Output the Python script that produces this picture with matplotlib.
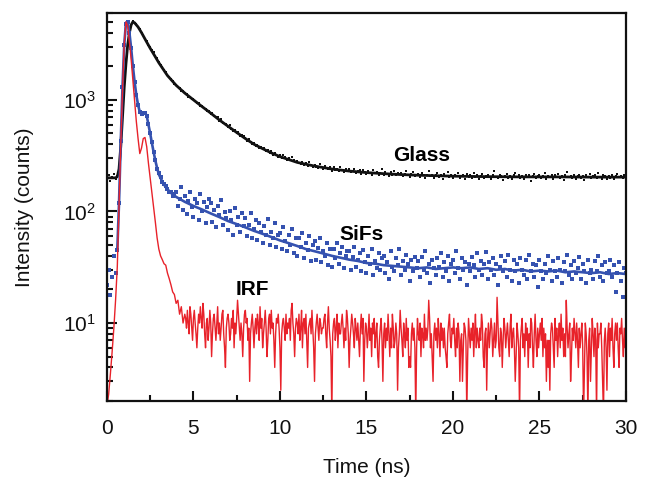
import numpy as np
import matplotlib
matplotlib.use('Agg')
import matplotlib.pyplot as plt
from matplotlib.ticker import LogLocator, NullFormatter, MultipleLocator

# ---- Glass: fitted curve (time in ns, counts) ----
glass_fit_t = [0, 0.5, 0.6, 0.7, 0.8, 0.9, 1.0, 1.1, 1.2, 1.3, 1.4, 1.5, 1.6, 1.8, 2.0,
               2.25, 2.5, 2.75, 3.0, 3.5, 4.0, 4.5, 5.0, 5.5, 6.0, 6.5, 7.0, 7.5, 8.0,
               8.5, 9.0, 9.5, 10, 11, 12, 13, 14, 15, 16, 17, 18, 19, 20, 22, 24, 26,
               28, 30]
glass_fit = [200, 200, 205, 240, 380, 700, 1300, 2100, 3100, 4000, 4700, 5000, 4900,
             4500, 4000, 3400, 2900, 2500, 2150, 1650, 1350, 1150, 1000, 870, 760, 660,
             580, 510, 450, 400, 365, 335, 310, 275, 255, 240, 230, 223, 218, 214, 211,
             209, 207, 205, 204, 204, 203, 203]

# Glass: measured points, one every 0.1 ns from 0 to 30
glass_pts = [196, 212, 186, 205, 218, 194, 208, 245, 375, 730,
             1290, 2180, 3080, 4100, 4650, 5050, 4850, 4800, 4450, 4300,
             3950, 3820, 3520, 3380, 3120, 2980, 2780, 2660, 2460, 2350,
             2200, 2060, 1970, 1840, 1770, 1680, 1590, 1530, 1470, 1390,
             1370, 1300, 1270, 1210, 1200, 1140, 1120, 1070, 1060, 1010,
             1010, 985, 930, 935, 880, 880, 845, 835, 790, 795,
             750, 760, 710, 700, 695, 650, 670, 620, 605, 610,
             570, 590, 545, 530, 540, 500, 520, 475, 485, 470,
             455, 430, 450, 415, 400, 410, 385, 395, 370, 380,
             360, 372, 345, 352, 332, 348, 322, 335, 318, 310,
             318, 300, 322, 305, 290, 302, 288, 305, 290, 276,
             284, 270, 268, 279, 262, 270, 258, 275, 262, 252,
             262, 250, 246, 265, 248, 240, 255, 246, 238, 250,
             232, 248, 236, 242, 228, 252, 234, 226, 240, 232,
             238, 224, 230, 242, 220, 228, 234, 218, 236, 225,
             216, 230, 222, 212, 236, 220, 226, 214, 222, 240,
             212, 224, 218, 208, 226, 214, 232, 210, 220, 216,
             222, 206, 216, 230, 212, 204, 218, 224, 208, 214,
             216, 204, 220, 210, 198, 214, 228, 206, 212, 200,
             212, 222, 204, 210, 196, 216, 208, 226, 202, 210,
             200, 214, 206, 220, 198, 208, 212, 194, 216, 205,
             210, 198, 222, 204, 212, 196, 206, 218, 200, 208,
             214, 202, 196, 210, 228, 204, 198, 212, 206, 192,
             208, 216, 200, 206, 194, 212, 220, 202, 210, 198,
             206, 196, 214, 204, 210, 188, 208, 218, 200, 206,
             212, 200, 206, 222, 196, 208, 202, 214, 194, 210,
             204, 216, 198, 208, 192, 210, 226, 202, 206, 200,
             210, 196, 206, 214, 200, 208, 190, 212, 204, 218,
             198, 206, 212, 200, 222, 204, 196, 210, 206, 194,
             208, 200, 214, 196, 206, 218, 202, 208, 198, 212,
             204]

# ---- SiFs: fitted curve ----
sifs_fit_t = [0.6, 0.7, 0.8, 0.9, 1.0, 1.1, 1.2, 1.3, 1.4, 1.5, 1.6, 1.7, 1.8,
              1.9, 2.0, 2.1, 2.2, 2.3, 2.4, 2.5, 2.6, 2.7, 2.8, 2.9, 3.0, 3.2, 3.4,
              3.6, 3.8, 4.0, 4.5, 5.0, 5.5, 6.0, 6.5, 7.0, 7.5, 8.0, 8.5, 9.0, 9.5,
              10, 10.5, 11, 11.5, 12, 12.5, 13, 13.5, 14, 14.5, 15, 15.5, 16, 16.5,
              17, 17.5, 18, 18.5, 19, 19.5, 20, 20.5, 21, 21.5, 22, 22.5, 23, 23.5,
              24, 24.5, 25, 25.5, 26, 26.5, 27, 27.5, 28, 28.5, 29, 29.5, 30]
sifs_fit = [45, 120, 420, 1300, 3100, 4900, 5000, 4000, 2900, 2000, 1450, 1100, 900,
            780, 740, 760, 770, 720, 600, 500, 410, 340, 285, 245, 215, 185, 165,
            152, 142, 135, 122, 112, 104, 96, 89, 82, 77, 72, 67, 63, 59,
            55, 52, 49, 46, 44, 42, 40, 38.5, 37, 36, 34.5, 34, 33, 32.5,
            32, 31.5, 31, 31.5, 30.5, 31, 31.5, 31, 31.5, 30.5, 31, 30, 30.5, 29.5,
            30, 29, 29.5, 29, 29.5, 28.5, 29, 28.5, 28, 28.5, 27.5, 28, 27.5]

# SiFs: measured points, one every 0.1 ns from 0 to 30
sifs_pts = [22, 30, 18, 26, 40, 28, 45, 120, 430, 1300,
            3100, 4800, 5000, 4000, 2900, 2000, 1450, 1100, 900, 780,
            740, 770, 760, 720, 610, 500, 420, 340, 290, 240,
            220, 205, 182, 175, 168, 158, 150, 148, 138, 142,
            150, 112, 128, 165, 104, 138, 95, 125, 148, 110,
            90, 130, 118, 84, 142, 100, 122, 78, 110, 128,
            120, 80, 104, 72, 112, 92, 126, 76, 98, 88,
            68, 100, 84, 62, 108, 76, 90, 66, 96, 74,
            88, 60, 76, 96, 58, 70, 84, 56, 78, 66,
            52, 74, 62, 86, 50, 66, 58, 78, 48, 62,
            64, 46, 72, 54, 44, 62, 50, 70, 42, 58,
            40, 58, 48, 64, 38, 52, 45, 60, 36, 50,
            54, 37, 47, 58, 35, 44, 40, 52, 33, 46,
            32, 46, 38, 52, 34, 42, 48, 31, 40, 44,
            44, 30, 39, 48, 32, 37, 42, 29, 45, 35,
            28, 40, 34, 46, 27, 36, 31, 42, 30, 38,
            40, 28, 35, 25, 44, 32, 29, 38, 33, 46,
            27, 36, 30, 41, 34, 24, 37, 29, 39, 31,
            36, 26, 39, 30, 44, 28, 34, 23, 37, 31,
            27, 38, 32, 42, 26, 35, 29, 40, 24, 34,
            37, 28, 44, 31, 25, 38, 30, 35, 22, 34,
            29, 39, 33, 26, 42, 30, 36, 27, 34, 43,
            25, 35, 30, 38, 27, 34, 22, 32, 40, 29,
            36, 26, 41, 30, 24, 37, 29, 34, 23, 38,
            30, 27, 37, 25, 41, 29, 34, 26, 33, 21,
            37, 29, 25, 34, 28, 40, 30, 24, 36, 29,
            26, 38, 30, 23, 35, 29, 41, 27, 33, 25,
            36, 28, 31, 39, 25, 34, 29, 23, 37, 28,
            30, 25, 36, 29, 40, 26, 33, 24, 35, 28,
            29, 37, 26, 33, 19, 28, 35, 24, 17, 31,
            28]

# ---- IRF: pulse, one value every 0.1 ns from 0 to 4.4 ----
irf_rise = [1.8, 2.3, 3.5, 5.5, 9, 16, 32, 110, 400, 1200,
            3200, 5000, 4600, 3300, 2300, 1500, 980, 640, 450, 330,
            370, 450, 460, 380, 270, 200, 150, 110, 80, 58,
            46, 40, 37, 34, 33, 28, 25, 22, 19, 18,
            15, 16, 12, 14, 10]

# ---- IRF: noisy tail, one value every 0.05 ns from 4.5 to 30 ----
irf_tail = [12, 11, 9, 13, 10, 8, 14, 12, 9, 7, 11, 13, 10, 8, 6, 9, 12, 10, 14, 11,
            9, 15, 12, 8, 6, 10, 11, 7, 9, 13, 10, 5, 8, 11, 12, 9, 7, 10, 14, 8,
            10, 7, 9, 12, 13, 8, 6, 4, 9, 11, 12, 10, 7, 8, 11, 9, 13, 6, 10, 8,
            11, 16, 12, 9, 7, 10, 8, 5, 9, 12, 13, 10, 11, 7, 9, 3, 8, 10, 12, 9,
            6, 9, 11, 8, 12, 10, 7, 14, 9, 11, 6, 8, 10, 13, 9, 5, 7, 11, 12, 8,
            13, 9, 10, 7, 4, 8, 11, 10, 12, 9, 6, 2.5, 8, 10, 11, 9, 7, 12, 8, 10,
            9, 11, 7, 13, 15, 10, 8, 5, 9, 11, 10, 8, 12, 7, 9, 13, 6, 10, 11, 8,
            12, 7, 4, 9, 10, 11, 8, 13, 9, 6, 3, 8, 10, 12, 9, 7, 11, 10, 8, 9,
            9, 11, 12, 8, 6, 10, 14, 9, 7, 5, 1.5, 8, 10, 11, 7, 9, 12, 6, 10, 8,
            8, 10, 12, 9, 6, 9, 7, 13, 11, 8, 4, 7, 9, 12, 10, 8, 6, 11, 9, 7,
            10, 7, 5, 9, 12, 8, 11, 3, 7, 10, 9, 6, 8, 12, 7, 9, 5, 10, 8, 11,
            6, 8, 10, 5, 4, 7, 9, 11, 7, 3, 8, 10, 6, 9, 7, 12, 8, 5, 9, 6,
            12, 9, 6, 7, 10, 8, 2.5, 6, 8, 13, 9, 7, 5, 10, 8, 6, 11, 7, 9, 4,
            5, 4, 8, 10, 7, 9, 6, 1.5, 6, 11, 8, 7, 10, 5, 9, 8, 6, 12, 7, 9,
            7, 9, 16, 11, 6, 8, 5, 3, 8, 10, 7, 9, 6, 11, 8, 5, 10, 7, 9, 6,
            9, 6, 5, 4, 8, 10, 12, 7, 6, 9, 8, 11, 7, 5, 9, 6, 10, 8, 3, 7,
            8, 3, 6, 10, 9, 7, 1.5, 5, 11, 8, 6, 9, 7, 10, 5, 8, 12, 6, 9, 7,
            6, 9, 7, 12, 10, 5, 4, 8, 9, 2.5, 7, 10, 6, 8, 11, 9, 5, 7, 10, 6,
            7, 17, 10, 6, 5, 9, 8, 4, 7, 11, 9, 6, 8, 10, 7, 5, 9, 12, 6, 8,
            9, 6, 3, 5, 10, 8, 6, 1.5, 7, 9, 11, 6, 8, 5, 10, 7, 9, 4, 8, 6,
            11, 10, 6, 4, 8, 12, 7, 5, 9, 6, 8, 10, 7, 11, 5, 9, 6, 8, 3, 7,
            4, 7, 2.5, 8, 10, 9, 6, 4, 11, 7, 9, 5, 8, 10, 6, 12, 7, 9, 5, 8,
            5, 16, 9, 6, 8, 10, 3, 5, 9, 7, 11, 8, 6, 10, 7, 4, 9, 6, 8, 10,
            6, 1.5, 4, 10, 8, 5, 1.5, 7, 9, 3, 6, 11, 8, 5, 9, 7, 1.5, 10, 6, 8,
            8, 10, 6, 3, 1.5, 7, 9, 6, 2.5, 8, 10, 5, 9, 7, 11, 6, 4, 8, 10, 7,
            10, 6, 4, 9, 8, 11, 7, 5, 9, 6, 10]

glass_t = np.linspace(0, 30, len(glass_pts))
sifs_t = np.linspace(0, 30, len(sifs_pts))
irf_t = np.concatenate([np.linspace(0, 4.4, len(irf_rise)),
                        np.linspace(4.5, 30, len(irf_tail))])
irf = irf_rise + irf_tail

plt.rcParams['font.family'] = ['Liberation Sans', 'DejaVu Sans']

fig = plt.figure(figsize=(6.48, 4.82), dpi=100)
ax = fig.add_axes([0.165, 0.168, 0.801, 0.805])

black = '#111111'
blue = '#3552b0'
red = '#e8222a'

ax.plot(glass_t, glass_pts, 's', color=black, markersize=1.8, markeredgewidth=0)
ax.plot(glass_fit_t, glass_fit, '-', color=black, linewidth=2.0)
ax.plot(sifs_t, sifs_pts, 's', color=blue, markersize=2.2, markeredgewidth=0)
ax.plot(sifs_fit_t, sifs_fit, '-', color=blue, linewidth=1.9)
ax.plot(irf_t, irf, '-', color=red, linewidth=1.0)

ax.set_yscale('log')
ax.set_xlim(0, 30)
ax.set_ylim(2, 6000)

ax.xaxis.set_major_locator(MultipleLocator(5))
ax.xaxis.set_minor_locator(MultipleLocator(2.5))
ax.yaxis.set_major_locator(LogLocator(base=10))
ax.yaxis.set_minor_locator(LogLocator(base=10, subs=np.arange(2, 10)))
ax.yaxis.set_minor_formatter(NullFormatter())

ax.tick_params(which='both', direction='in', top=False, right=False,
               width=1.5, labelsize=15, colors='#111111')
ax.tick_params(which='major', length=7)
ax.tick_params(axis='x', which='major', pad=13)
ax.tick_params(axis='y', which='major', pad=8)
ax.tick_params(which='minor', length=4)
for s in ax.spines.values():
    s.set_linewidth(1.6)
    s.set_color('#111111')

ax.set_xlabel('Time (ns)', fontsize=15, labelpad=14, color='#111111')
ax.set_ylabel('Intensity (counts)', fontsize=15, labelpad=21, color='#111111')

ax.text(18.2, 320, 'Glass', fontsize=15, fontweight='bold', ha='center', va='center')
ax.text(14.7, 62, 'SiFs', fontsize=15, fontweight='bold', ha='center', va='center')
ax.text(8.4, 20, 'IRF', fontsize=15, fontweight='bold', ha='center', va='center')

fig.savefig('out.png', dpi=100)
